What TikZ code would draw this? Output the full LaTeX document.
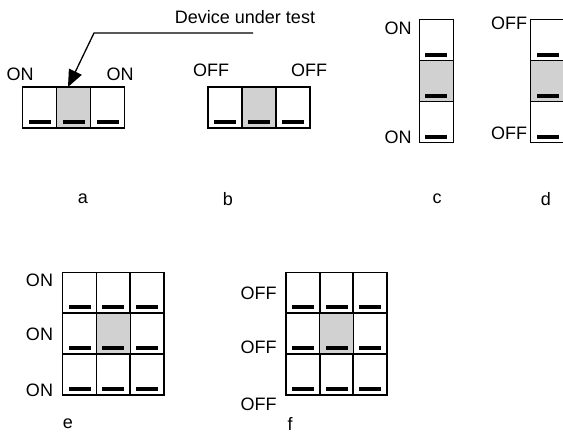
\documentclass[tikz,border=0pt]{standalone}
\usepackage{fontspec}
\setmainfont{Liberation Sans}
\usepackage{tikz}
\usetikzlibrary{calc,positioning}
\usetikzlibrary{arrows.meta}
\tikzset{>={Triangle[width=14pt,length=17pt]}}

\begin{document}
\begin{tikzpicture}[x=1pt,y=-1pt]
          \tikzstyle{cell} = [draw=black, line width=1.5pt, minimum width=34pt, minimum height=41pt, inner sep=0pt, outer sep=0pt,
                              path picture={\fill[black] ([xshift=-11pt,yshift=4pt]path picture bounding box.south) rectangle ([xshift=11pt,yshift=8pt]path picture bounding box.south);}]
          \tikzstyle{dut} = [cell, fill=black!18]
          \tikzstyle{lbl} = [inner sep=0pt, font=\fontsize{18}{21}\selectfont]
          \useasboundingbox (0,0) rectangle (563,434);

          % a
          \node[cell] (a1) at (39.5,107.5) {};
          \node[dut, right=0pt of a1] (a2) {};
          \node[cell, right=0pt of a2] (a3) {};
          \node[lbl] (aon1) at (20,74) {ON};
          \node[lbl] (aon2) at (120,74) {ON};
          \node[lbl] (alab) at (83,199) {a};

          \node[lbl] (devlab) at (245,17) {Device under test};
          \coordinate (lead) at (253,33);
          \draw[->, line width=1.3pt] (lead) -- ++(-159,0) -- ([xshift=11.5pt]a2.north west);

          % b
          \node[cell] (b1) at (225,107.5) {};
          \node[dut, right=0pt of b1] (b2) {};
          \node[cell, right=0pt of b2] (b3) {};
          \node[lbl] (boff1) at (211,70.5) {OFF};
          \node[lbl] (boff2) at (309,70.5) {OFF};
          \node[lbl] (blab) at (228,199) {b};

          % c
          \node[cell] (c1) at (436.3,40) {};
          \node[dut, below=0pt of c1] (c2) {};
          \node[cell, below=0pt of c2] (c3) {};
          \node[lbl] (con1) at (398,28) {ON};
          \node[lbl] (con2) at (398,137) {ON};
          \node[lbl] (clab) at (437,199) {c};

          % d
          \node[cell] (d1) at (547.7,40) {};
          \node[dut, below=0pt of d1] (d2) {};
          \node[cell, below=0pt of d2] (d3) {};
          \node[lbl] (doff1) at (509,23) {OFF};
          \node[lbl] (doff2) at (509,133) {OFF};
          \node[lbl] (dlab) at (546,199) {d};

          % e
          \foreach \c/\x in {1/79.7,2/113.3,3/147}
            \foreach \r/\y in {1/292.8,2/333.7,3/374.5}
              \node[cell] (e\r\c) at (\x,\y) {};
          \node[dut] (e22) at (113.3,333.7) {};
          \foreach \r/\y in {1/280,2/334,3/390}
            \node[lbl] (eon\r) at (39.5,\y) {ON};
          \node[lbl] (elab) at (68,424) {e};

          % f
          \foreach \c/\x in {1/303,2/336.7,3/370}
            \foreach \r/\y in {1/292.8,2/333.7,3/374.5}
              \node[cell] (f\r\c) at (\x,\y) {};
          \node[dut] (f22) at (336.7,333.7) {};
          \foreach \r/\y in {1/293,2/347,3/404}
            \node[lbl] (foff\r) at (258.5,\y) {OFF};
          \node[lbl] (flab) at (290,424) {f};
        \end{tikzpicture}
\end{document}
